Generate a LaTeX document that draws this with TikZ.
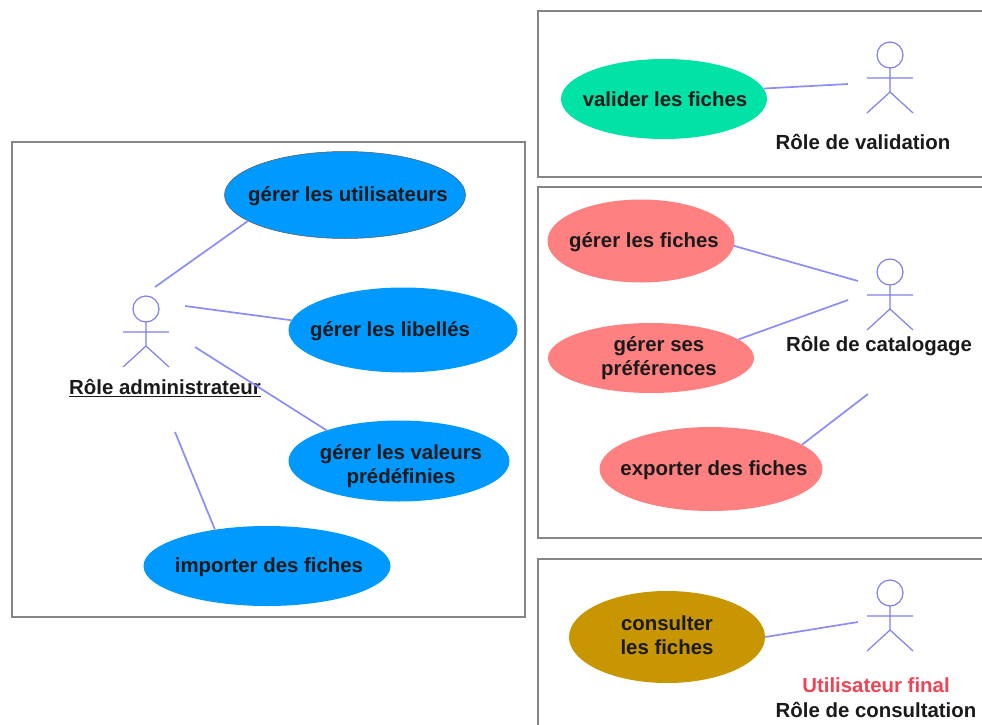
\documentclass[tikz,border=0pt]{standalone}
\usepackage{fontspec}
\setmainfont{Liberation Sans}
\usetikzlibrary{shapes.geometric}
\definecolor{linkc}{HTML}{8C8CFA}
\definecolor{actorc}{HTML}{8080F0}
\definecolor{framec}{HTML}{858585}
\definecolor{bluec}{HTML}{0099FF}
\definecolor{greenc}{HTML}{00E2A6}
\definecolor{salmonc}{HTML}{FF8080}
\definecolor{goldc}{HTML}{C89600}
\definecolor{redc}{HTML}{EE4455}
\definecolor{textc}{HTML}{1A1A1A}
\tikzset{
  frame/.style={draw=framec,line width=1.8pt},
  usecase/.style={ellipse,inner sep=0pt,align=center,text=textc,
    font=\fontsize{20.4}{24}\selectfont\bfseries},
  link/.style={draw=linkc,line width=1.7pt},
  limb/.style={draw=actorc,line width=1.2pt},
  rolelabel/.style={text=textc,inner sep=0pt,font=\fontsize{20.4}{24}\selectfont\bfseries},
}
% text line of a use case, offset from the ellipse centre: #1 right (twice the shift), #2 down
\newcommand{\ucline}[3]{\makebox[0pt]{\hspace*{#1pt}\smash{\raisebox{\dimexpr-#2pt-6pt\relax}{#3}}}}
\newcommand{\stickman}[2]{%
  \coordinate (#1) at (#2);
  \draw[limb] (#1) ellipse[x radius=13,y radius=13];
  \draw[limb] ([shift={(0,13)}]#1) -- ++(0,24)
     ([shift={(-23,23)}]#1) -- ++(46,0)
     ([shift={(0,37)}]#1) -- ++(-23,21)
     ([shift={(0,37)}]#1) -- ++(23,21);
}
\begin{document}
\begin{tikzpicture}[x=1pt,y=-1pt]
\useasboundingbox[fill=white] (0,0) rectangle (982,725);
% frames
\draw[frame] (12,142) rectangle (525,617);
\draw[frame] (982,11) -- (538,11) -- (538,177) -- (982,177);
\draw[frame] (982,187) -- (538,187) -- (538,538) -- (982,538);
\draw[frame] (982,559) -- (538,559) -- (538,725);
% use cases
\node[usecase,fill=bluec,draw=black!65,line width=.5pt,minimum width=241pt,minimum height=87pt] (users) at (345,195) {\ucline{6}{0}{gérer les utilisateurs}};
\node[usecase,fill=bluec,minimum width=229pt,minimum height=85pt] (labels) at (403,330) {\ucline{-26}{0}{gérer les libellés}};
\node[usecase,fill=bluec,minimum width=221pt,minimum height=81pt] (values) at (399,461) {\ucline{4}{4}{gérer les valeurs}\\\ucline{4}{4}{prédéfinies}};
\node[usecase,fill=bluec,minimum width=247pt,minimum height=80pt] (import) at (267,566) {\ucline{4}{0}{importer des fiches}};
\node[usecase,fill=greenc,minimum width=206pt,minimum height=80pt] (validate) at (664,99) {\ucline{2}{1}{valider les fiches}};
\node[usecase,fill=salmonc,minimum width=187pt,minimum height=83pt] (records) at (641,241) {\ucline{6}{0}{gérer les fiches}};
\node[usecase,fill=salmonc,minimum width=206pt,minimum height=70pt] (prefs) at (651,358) {\ucline{16}{-1}{gérer ses}\\\ucline{16}{-1}{préférences}};
\node[usecase,fill=salmonc,minimum width=223pt,minimum height=84pt] (export) at (711,469) {\ucline{6}{0}{exporter des fiches}};
\node[usecase,fill=goldc,minimum width=196pt,minimum height=92pt] (consult) at (667,637) {\ucline{0}{-1}{consulter}\\\ucline{0}{-1}{les fiches}};
% actors
\stickman{adminhead}{146,309}
\stickman{validhead}{890,55}
\stickman{cataloghead}{890,272}
\stickman{consulthead}{890,593}
% labels
\node[rolelabel] (adminrole) at (165,388) {\underline{Rôle administrateur}};
\node[rolelabel] (validrole) at (863,142) {Rôle de validation};
\node[rolelabel] (catalogrole) at (879,346) {Rôle de catalogage};
\node[rolelabel,text=redc] (finalrole) at (876,685) {Utilisateur final};
\node[rolelabel] (consultrole) at (876,710) {Rôle de consultation};
% connector free ends
\coordinate (a1) at (155,287);
\coordinate (a2) at (185,306);
\coordinate (a3) at (195,347);
\coordinate (a4) at (175,432);
\coordinate (v1) at (848,84);
\coordinate (c1) at (858,281);
\coordinate (c2) at (848,300);
\coordinate (c3) at (868,394);
\coordinate (u1) at (858,622);
% connectors
\draw[link] (a1) -- (users.195.6);
\draw[link] (a2) -- (labels.175.4);
\draw[link] (a3) -- (values.157.1);
\draw[link] (a4) -- (import.145.1);
\draw[link] (v1) -- (validate.6.3);
\draw[link] (c1) -- (records.-3);
\draw[link] (c2) -- (prefs.12.9);
\draw[link] (c3) -- (export.15.3);
\draw[link] (u1) -- (consult.0.6);
\end{tikzpicture}
\end{document}
